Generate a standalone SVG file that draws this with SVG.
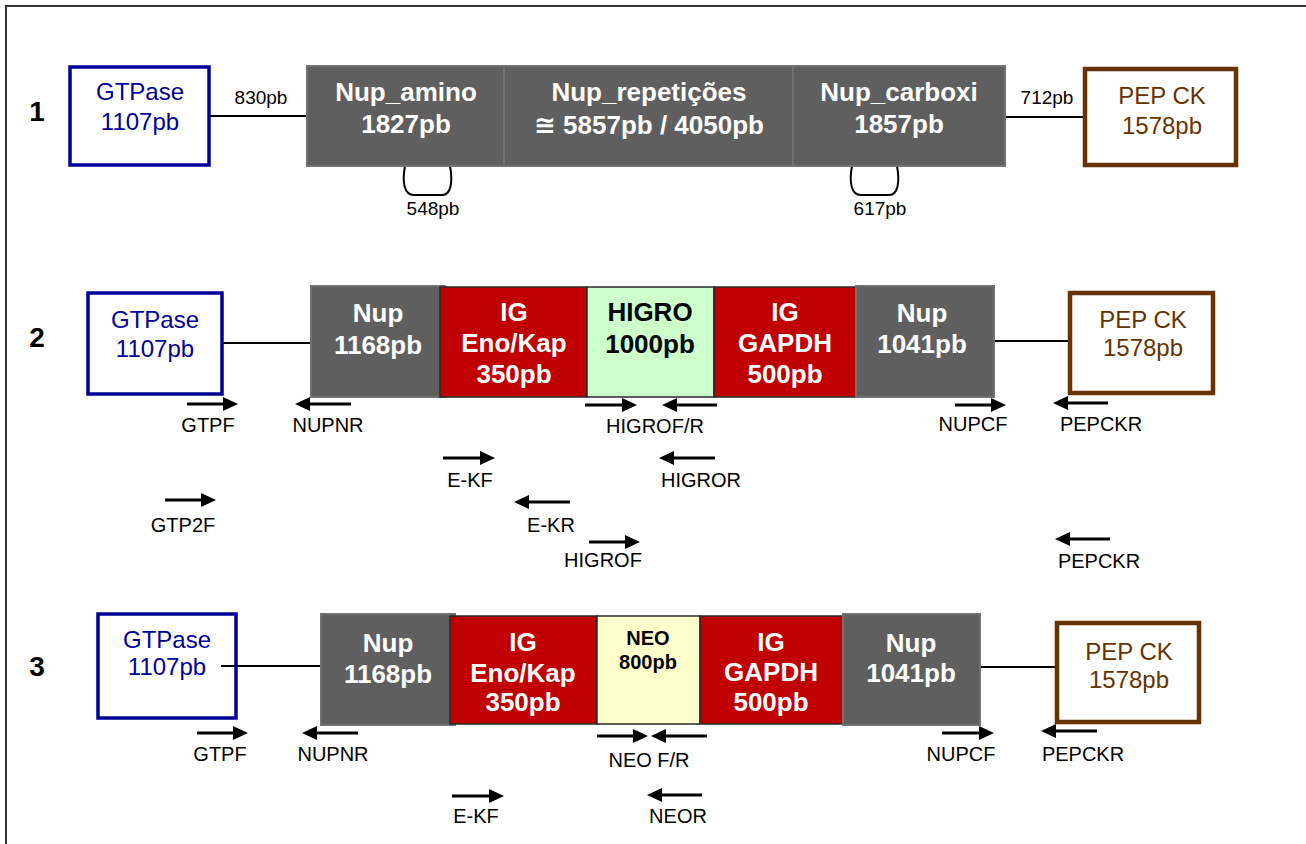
<svg xmlns="http://www.w3.org/2000/svg" width="1306" height="844" viewBox="0 0 1306 844">
<style>
text{font-family:"Liberation Sans",Arial,"DejaVu Sans",sans-serif;text-anchor:middle}
.num{font-size:28px;font-weight:bold;fill:#000}
.bw{font-size:26px;font-weight:bold;fill:#fff}
.bk{font-size:26px;font-weight:bold;fill:#000}
.gt{font-size:24px;fill:#000099}
.pk{font-size:24px;fill:#663300}
.lb{font-size:20px;fill:#000}
.pb{font-size:19px;fill:#000}
.gtbox{fill:none;stroke:#000099;stroke-width:3.5}
.pkbox{fill:#fff;stroke:#663300;stroke-width:4.5}
.gray{fill:#5f5f5f;stroke:#727272;stroke-width:2}
.red{fill:#c00000;stroke:#2a2a2a;stroke-width:1.5}
.grn{fill:#ccffcc;stroke:#2a2a2a;stroke-width:1.5}
.yel{fill:#ffffcc;stroke:#2a2a2a;stroke-width:1.5}
.ln{stroke:#000;stroke-width:2;fill:none}
.ar{stroke:#000;stroke-width:2.8;fill:none;marker-end:url(#head)}
</style>
<defs>
<marker id="head" markerUnits="userSpaceOnUse" markerWidth="16" markerHeight="14" refX="1" refY="7" orient="auto">
<path d="M0,0 L15,7 L0,14 Z" fill="#000"/>
</marker>
</defs>
<rect x="6" y="6" width="1330" height="870" fill="none" stroke="#333" stroke-width="2"/>

<g id="labels">
<text class="num" x="37" y="121">1</text>
<text class="num" x="37" y="347">2</text>
<text class="num" x="37" y="676">3</text>
</g>

<g id="connectors">
<!-- row 1 -->
<line class="ln" x1="209" y1="116" x2="307" y2="116"/>
<line class="ln" x1="1005" y1="117" x2="1085" y2="117"/>
<path class="ln" d="M405,166 C402,182 404,195 414,195 L442,195 C451,195 453,182 450,166"/>
<path class="ln" d="M852,166 C849,182 851,195 861,195 L889,195 C898,195 900,182 897,166"/>
<!-- row 2 -->
<line class="ln" x1="223" y1="343" x2="311" y2="343"/>
<line class="ln" x1="994" y1="341" x2="1070" y2="341"/>
<!-- row 3 -->
<line class="ln" x1="221" y1="666" x2="321" y2="666"/>
<line class="ln" x1="980" y1="667" x2="1057" y2="667"/>
<!-- primer arrows row 2 -->
<path class="ar" d="M187,404 H224"/>
<path class="ar" d="M351,404 H309"/>
<path class="ar" d="M585,405 H623"/>
<path class="ar" d="M717,405 H676"/>
<path class="ar" d="M955,405 H992"/>
<path class="ar" d="M1108,403 H1067"/>
<path class="ar" d="M443,458 H481"/>
<path class="ar" d="M715,458 H673"/>
<path class="ar" d="M165,500 H202"/>
<path class="ar" d="M570,502 H528"/>
<path class="ar" d="M589,542 H626"/>
<path class="ar" d="M1110,539 H1069"/>
<!-- primer arrows row 3 -->
<path class="ar" d="M197,733 H234"/>
<path class="ar" d="M358,733 H316"/>
<path class="ar" d="M597,736 H634"/>
<path class="ar" d="M707,736 H665"/>
<path class="ar" d="M942,733 H980"/>
<path class="ar" d="M1097,731 H1055"/>
<path class="ar" d="M452,796 H490"/>
<path class="ar" d="M702,795 H661"/>
</g>

<g id="connector-labels">
<text class="pb" x="261" y="104">830pb</text>
<text class="pb" x="1047" y="104">712pb</text>
<text class="pb" x="433" y="215">548pb</text>
<text class="pb" x="880" y="215">617pb</text>
<text class="lb" x="208" y="432">GTPF</text>
<text class="lb" x="328" y="432">NUPNR</text>
<text class="lb" x="655" y="433">HIGROF/R</text>
<text class="lb" x="973" y="431">NUPCF</text>
<text class="lb" x="1101" y="431">PEPCKR</text>
<text class="lb" x="470" y="487">E-KF</text>
<text class="lb" x="701" y="487">HIGROR</text>
<text class="lb" x="183" y="532">GTP2F</text>
<text class="lb" x="551" y="532">E-KR</text>
<text class="lb" x="603" y="567">HIGROF</text>
<text class="lb" x="1099" y="568">PEPCKR</text>
<text class="lb" x="220" y="761">GTPF</text>
<text class="lb" x="333" y="761">NUPNR</text>
<text class="lb" x="649" y="767">NEO F/R</text>
<text class="lb" x="961" y="761">NUPCF</text>
<text class="lb" x="1083" y="761">PEPCKR</text>
<text class="lb" x="476" y="823">E-KF</text>
<text class="lb" x="678" y="823">NEOR</text>
</g>

<!-- Row 1 -->
<g id="r1-gtpase">
<rect class="gtbox" x="70" y="67" width="139" height="98"/>
<text class="gt" x="140" y="100">GTPase</text>
<text class="gt" x="140" y="130">1107pb</text>
</g>
<g id="r1-nup-amino">
<rect class="gray" x="307" y="66" width="197" height="100"/>
<text class="bw" x="406" y="101">Nup_amino</text>
<text class="bw" x="406" y="133">1827pb</text>
</g>
<g id="r1-nup-rep">
<rect class="gray" x="504" y="66" width="289" height="100"/>
<text class="bw" x="649" y="101">Nup_repetições</text>
<text class="bw" x="649" y="134">≅ 5857pb / 4050pb</text>
</g>
<g id="r1-nup-carboxi">
<rect class="gray" x="793" y="66" width="212" height="100"/>
<text class="bw" x="899" y="101">Nup_carboxi</text>
<text class="bw" x="899" y="133">1857pb</text>
</g>
<g id="r1-pepck">
<rect class="pkbox" x="1085" y="69" width="151" height="96"/>
<text class="pk" x="1162" y="104">PEP CK</text>
<text class="pk" x="1162" y="134">1578pb</text>
</g>

<!-- Row 2 -->
<g id="r2-gtpase">
<rect class="gtbox" x="88" y="293" width="134" height="101"/>
<text class="gt" x="155" y="328">GTPase</text>
<text class="gt" x="155" y="357">1107pb</text>
</g>
<g id="r2-nup1">
<rect class="gray" x="311" y="286" width="134" height="111"/>
<text class="bw" x="378" y="322">Nup</text>
<text class="bw" x="378" y="354">1168pb</text>
</g>
<g id="r2-ig-eno">
<rect class="red" x="440" y="287" width="147" height="110"/>
<text class="bw" x="514" y="321">IG</text>
<text class="bw" x="514" y="352">Eno/Kap</text>
<text class="bw" x="514" y="383">350pb</text>
</g>
<g id="r2-higro">
<rect class="grn" x="587" y="287" width="127" height="110"/>
<text class="bk" x="650" y="321">HIGRO</text>
<text class="bk" x="650" y="353">1000pb</text>
</g>
<g id="r2-ig-gapdh">
<rect class="red" x="714" y="287" width="142" height="110"/>
<text class="bw" x="785" y="321">IG</text>
<text class="bw" x="785" y="352">GAPDH</text>
<text class="bw" x="785" y="383">500pb</text>
</g>
<g id="r2-nup2">
<rect class="gray" x="856" y="286" width="138" height="111"/>
<text class="bw" x="922" y="322">Nup</text>
<text class="bw" x="922" y="353">1041pb</text>
</g>
<g id="r2-pepck">
<rect class="pkbox" x="1070" y="293" width="143" height="100"/>
<text class="pk" x="1143" y="328">PEP CK</text>
<text class="pk" x="1143" y="356">1578pb</text>
</g>

<!-- Row 3 -->
<g id="r3-gtpase">
<rect class="gtbox" x="98" y="614" width="138" height="104"/>
<text class="gt" x="167" y="648">GTPase</text>
<text class="gt" x="167" y="675">1107pb</text>
</g>
<g id="r3-nup1">
<rect class="gray" x="321" y="614" width="134" height="111"/>
<text class="bw" x="388" y="652">Nup</text>
<text class="bw" x="388" y="683">1168pb</text>
</g>
<g id="r3-ig-eno">
<rect class="red" x="450" y="616" width="147" height="108"/>
<text class="bw" x="523" y="651">IG</text>
<text class="bw" x="523" y="682">Eno/Kap</text>
<text class="bw" x="523" y="711">350pb</text>
</g>
<g id="r3-neo">
<rect class="yel" x="597" y="616" width="103" height="108"/>
<text class="bk" style="font-size:20px" x="648" y="645">NEO</text>
<text class="bk" style="font-size:20px" x="648" y="669">800pb</text>
</g>
<g id="r3-ig-gapdh">
<rect class="red" x="700" y="616" width="143" height="108"/>
<text class="bw" x="771" y="651">IG</text>
<text class="bw" x="771" y="681">GAPDH</text>
<text class="bw" x="771" y="711">500pb</text>
</g>
<g id="r3-nup2">
<rect class="gray" x="843" y="614" width="137" height="111"/>
<text class="bw" x="911" y="652">Nup</text>
<text class="bw" x="911" y="682">1041pb</text>
</g>
<g id="r3-pepck">
<rect class="pkbox" x="1057" y="623" width="142" height="99"/>
<text class="pk" x="1129" y="660">PEP CK</text>
<text class="pk" x="1129" y="688">1578pb</text>
</g>
</svg>
